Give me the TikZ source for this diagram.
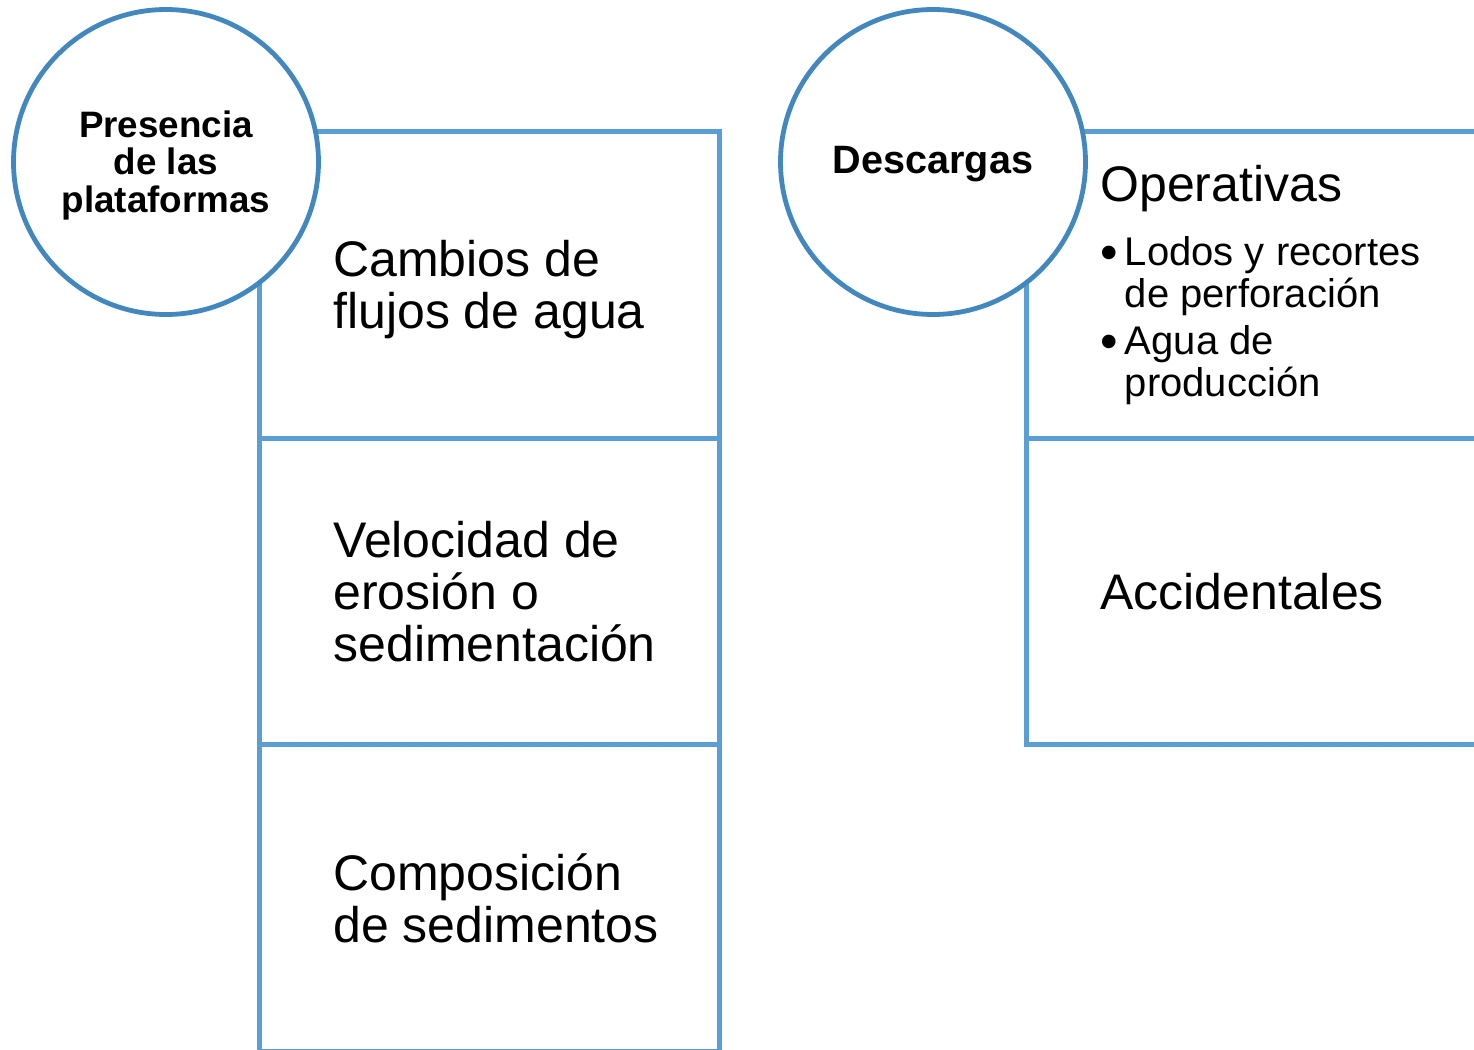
\documentclass[tikz,border=0pt]{standalone}
\usepackage{fontspec}
\setmainfont{Liberation Sans}
\usetikzlibrary{positioning}
\definecolor{cellblue}{RGB}{91,158,212}
\definecolor{ringblue}{RGB}{66,136,190}
\newcommand{\bigdot}{\raisebox{-2.25pt}{\fontsize{25}{21}\selectfont\textbullet}}
\tikzset{
	cell/.style={draw=cellblue, line width=2.5pt, minimum width=230pt, minimum height=153.25pt, inner sep=0pt, outer sep=0pt}, % one box of a column
	topic/.style={circle, draw=ringblue, fill=white, line width=2.4pt, minimum size=152.5pt}, % the round heading
	item/.style={align=left, inner sep=0pt, font=\fontsize{25}{26}\selectfont}, % text in a box
}

\begin{document}
\begin{tikzpicture}[x=0.5pt, y=-0.5pt]
	\clip (0,0) rectangle (1474,1050);
			\node[cell] (c1) at (489,285) {};
			\node[cell, below=0pt of c1] (c2) {};
			\node[cell, below=0pt of c2] (c3) {};
			\node[cell] (r1) at (1256,285) {};
			\node[cell, below=0pt of r1] (r2) {};
			\node[item, right=37pt of c1.west, yshift=-2.5pt] (t1) {Cambios de\\flujos de agua};
			\node[item, right=37pt of c2.west] (t2) {Velocidad de\\erosión o\\sedimentación};
			\node[item, right=37pt of c3.west] (t3) {Composición\\de sedimentos};
			\node[item, right=37pt of r1.west, yshift=-1pt] (t4) {Operativas\\[6pt]
				{\fontsize{20}{21}\selectfont\begin{tabular}[t]{@{}l@{\hspace{3.5pt}}l@{}}
				\bigdot & Lodos y recortes\\
				& de perforación\\[2.5pt]
				\bigdot & Agua de\\
				& producción
				\end{tabular}}};
			\node[item, right=37pt of r2.west] (t5) {Accidentales};
			\node[topic] (p) at (166,162) {};
			\node[align=center, font=\bfseries\fontsize{18.4}{18.75}\selectfont, yshift=-1.5pt] (pt) at (p) {Presencia\\de las\\plataformas};
			\node[topic] (d) at (933,162) {};
			\node[font=\bfseries\fontsize{19.8}{21}\selectfont, yshift=-1pt] (dt) at (d) {Descargas};
\end{tikzpicture}
\end{document}
